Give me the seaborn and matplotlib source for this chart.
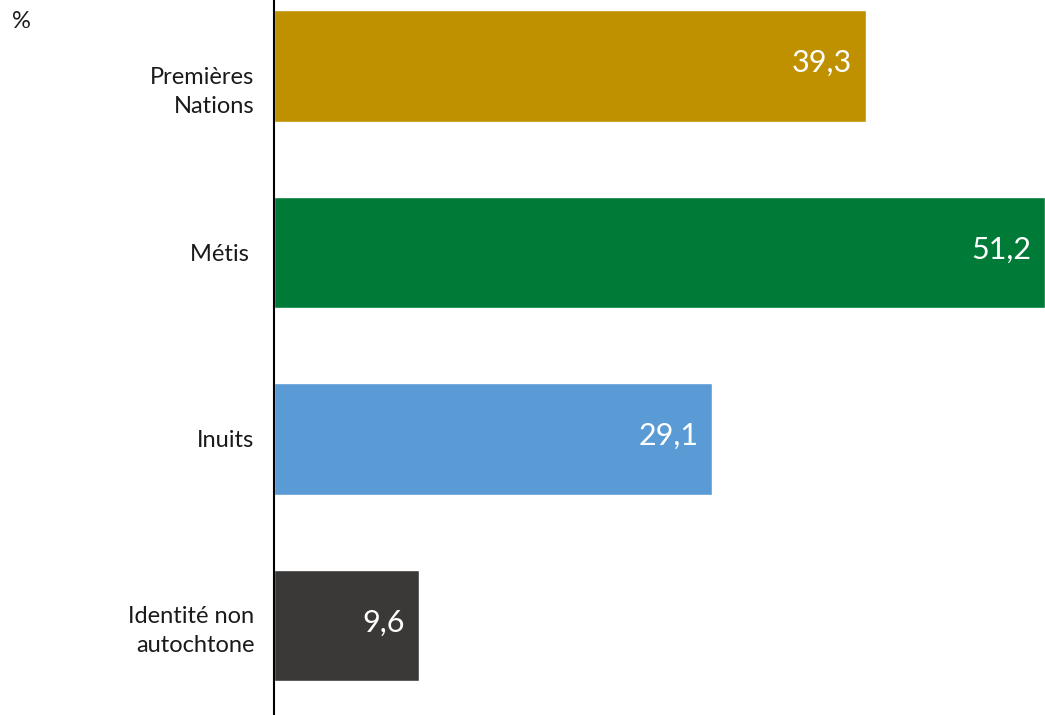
import matplotlib
matplotlib.use("Agg")
import matplotlib.pyplot as plt
import matplotlib.transforms as mtransforms
import seaborn as sns
import pandas as pd

categories = ["Premières\nNations", "Métis ", "Inuits", "Identité non\nautochtone"]
values = [39.3, 51.2, 29.1, 9.6]
value_labels = ["39,3", "51,2", "29,1", "9,6"]
colors = ["#BF9000", "#007A37", "#5B9BD5", "#3B3937"]

sns.set_style("white")
plt.rcParams["font.family"] = ["Lato", "DejaVu Sans"]

df = pd.DataFrame({"cat": categories, "val": values})

fig = plt.figure(figsize=(10.45, 7.15), dpi=100)
ax = fig.add_axes([274 / 1045, 0, 771 / 1045, 1])
sns.barplot(data=df, x="val", y="cat", hue="cat", palette=colors, order=categories,
            hue_order=categories, orient="h", width=0.6, legend=False, ax=ax,
            saturation=1)

ax.set_xlim(0, 51.2)
ax.set_ylim(3.48, -0.354)
ax.set_xlabel("")
ax.set_ylabel("")
ax.set_xticks([])
for s in ["top", "right", "bottom"]:
    ax.spines[s].set_visible(False)
ax.spines["left"].set_color("black")
ax.spines["left"].set_linewidth(1.5)
ax.tick_params(axis="y", length=0, pad=14, labelsize=17, labelcolor="#1a1a1a")
for t in ax.get_yticklabels():
    t.set_linespacing(1.45)

# first category label sits a little lower in the reference
first = ax.yaxis.get_major_ticks()[0].label1
first.set_transform(first.get_transform() +
                    mtransforms.ScaledTranslation(0, -20 / 100, fig.dpi_scale_trans))

for i, (v, lab) in enumerate(zip(values, value_labels)):
    ax.annotate(lab, xy=(v, i), xytext=(-10, 2), textcoords="offset points",
                ha="right", va="center", color="white", fontsize=22)

fig.text(12 / 1045, 1 - 21 / 715, "%", ha="left", va="center", fontsize=17, color="#1a1a1a")

fig.savefig("out.png", dpi=100)
